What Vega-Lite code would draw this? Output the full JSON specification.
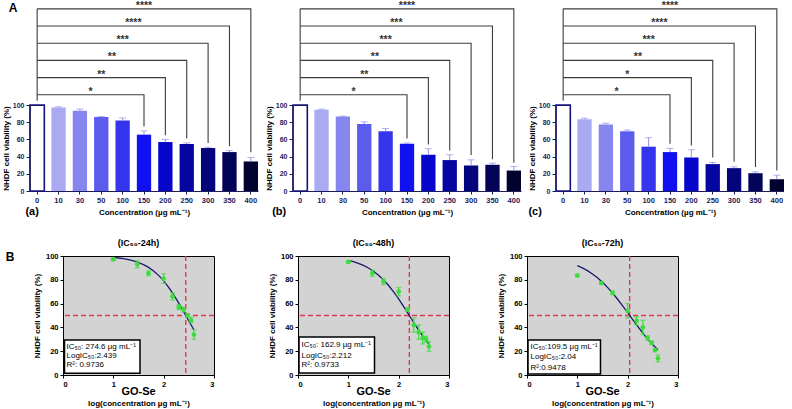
{
"$schema": "https://vega.github.io/schema/vega-lite/v6.json",
"padding": {"left": 2, "top": 0, "right": 0, "bottom": 0},
"config": {"font": "Liberation Sans", "view": {"stroke": null}, "axis": {"grid": false, "labelOverlap": false}},
"datasets": {
"bars": [
{"t":"24h","conc":"0","v":100,"hi":null},{"t":"24h","conc":"10","v":97.3,"hi":98},{"t":"24h","conc":"30","v":93.4,"hi":95.4},{"t":"24h","conc":"50","v":86,"hi":86.6},{"t":"24h","conc":"100","v":82,"hi":85},{"t":"24h","conc":"150","v":65.6,"hi":69.9},{"t":"24h","conc":"200","v":57,"hi":60},{"t":"24h","conc":"250","v":54.7,"hi":56},{"t":"24h","conc":"300","v":50,"hi":50.8},{"t":"24h","conc":"350","v":45.3,"hi":47},{"t":"24h","conc":"400","v":34.4,"hi":39},
{"t":"48h","conc":"0","v":100,"hi":null},{"t":"48h","conc":"10","v":94.5,"hi":95.3},{"t":"48h","conc":"30","v":86.7,"hi":87.2},{"t":"48h","conc":"50","v":78,"hi":80.5},{"t":"48h","conc":"100","v":69.5,"hi":72.7},{"t":"48h","conc":"150","v":55,"hi":55.9},{"t":"48h","conc":"200","v":42.2,"hi":49.2},{"t":"48h","conc":"250","v":36,"hi":42.2},{"t":"48h","conc":"300","v":29.7,"hi":36.3},{"t":"48h","conc":"350","v":30.5,"hi":32.4},{"t":"48h","conc":"400","v":23.8,"hi":28.5},
{"t":"72h","conc":"0","v":100,"hi":null},{"t":"72h","conc":"10","v":83.6,"hi":84.8},{"t":"72h","conc":"30","v":77.3,"hi":78.9},{"t":"72h","conc":"50","v":69.5,"hi":71},{"t":"72h","conc":"100","v":51.6,"hi":62},{"t":"72h","conc":"150","v":45.3,"hi":49.6},{"t":"72h","conc":"200","v":39,"hi":48},{"t":"72h","conc":"250","v":31.3,"hi":33.2},{"t":"72h","conc":"300","v":26.6,"hi":28.1},{"t":"72h","conc":"350","v":20.7,"hi":22.3},{"t":"72h","conc":"400","v":13.7,"hi":18.4}
],
"brk": [
{"t":"24h","comp":"150","seq":1,"conc":"0","y":112},{"t":"24h","comp":"150","seq":2,"conc":"150","y":112},{"t":"24h","comp":"150","seq":3,"conc":"150","y":75},
{"t":"24h","comp":"200","seq":1,"conc":"0","y":132},{"t":"24h","comp":"200","seq":2,"conc":"200","y":132},{"t":"24h","comp":"200","seq":3,"conc":"200","y":65},
{"t":"24h","comp":"250","seq":1,"conc":"0","y":152},{"t":"24h","comp":"250","seq":2,"conc":"250","y":152},{"t":"24h","comp":"250","seq":3,"conc":"250","y":61},
{"t":"24h","comp":"300","seq":1,"conc":"0","y":172},{"t":"24h","comp":"300","seq":2,"conc":"300","y":172},{"t":"24h","comp":"300","seq":3,"conc":"300","y":56},
{"t":"24h","comp":"350","seq":1,"conc":"0","y":192},{"t":"24h","comp":"350","seq":2,"conc":"350","y":192},{"t":"24h","comp":"350","seq":3,"conc":"350","y":52},
{"t":"24h","comp":"400","seq":1,"conc":"0","y":212},{"t":"24h","comp":"400","seq":2,"conc":"400","y":212},{"t":"24h","comp":"400","seq":3,"conc":"400","y":45},
{"t":"48h","comp":"150","seq":1,"conc":"0","y":112},{"t":"48h","comp":"150","seq":2,"conc":"150","y":112},{"t":"48h","comp":"150","seq":3,"conc":"150","y":61},
{"t":"48h","comp":"200","seq":1,"conc":"0","y":132},{"t":"48h","comp":"200","seq":2,"conc":"200","y":132},{"t":"48h","comp":"200","seq":3,"conc":"200","y":54},
{"t":"48h","comp":"250","seq":1,"conc":"0","y":152},{"t":"48h","comp":"250","seq":2,"conc":"250","y":152},{"t":"48h","comp":"250","seq":3,"conc":"250","y":47},
{"t":"48h","comp":"300","seq":1,"conc":"0","y":172},{"t":"48h","comp":"300","seq":2,"conc":"300","y":172},{"t":"48h","comp":"300","seq":3,"conc":"300","y":42},
{"t":"48h","comp":"350","seq":1,"conc":"0","y":192},{"t":"48h","comp":"350","seq":2,"conc":"350","y":192},{"t":"48h","comp":"350","seq":3,"conc":"350","y":37},
{"t":"48h","comp":"400","seq":1,"conc":"0","y":212},{"t":"48h","comp":"400","seq":2,"conc":"400","y":212},{"t":"48h","comp":"400","seq":3,"conc":"400","y":33},
{"t":"72h","comp":"150","seq":1,"conc":"0","y":112},{"t":"72h","comp":"150","seq":2,"conc":"150","y":112},{"t":"72h","comp":"150","seq":3,"conc":"150","y":55},
{"t":"72h","comp":"200","seq":1,"conc":"0","y":132},{"t":"72h","comp":"200","seq":2,"conc":"200","y":132},{"t":"72h","comp":"200","seq":3,"conc":"200","y":53},
{"t":"72h","comp":"250","seq":1,"conc":"0","y":152},{"t":"72h","comp":"250","seq":2,"conc":"250","y":152},{"t":"72h","comp":"250","seq":3,"conc":"250","y":39},
{"t":"72h","comp":"300","seq":1,"conc":"0","y":172},{"t":"72h","comp":"300","seq":2,"conc":"300","y":172},{"t":"72h","comp":"300","seq":3,"conc":"300","y":34},
{"t":"72h","comp":"350","seq":1,"conc":"0","y":192},{"t":"72h","comp":"350","seq":2,"conc":"350","y":192},{"t":"72h","comp":"350","seq":3,"conc":"350","y":28},
{"t":"72h","comp":"400","seq":1,"conc":"0","y":212},{"t":"72h","comp":"400","seq":2,"conc":"400","y":212},{"t":"72h","comp":"400","seq":3,"conc":"400","y":24}
],
"stars": [
{"t":"24h","conc":"30","half":true,"h":112,"s":"*"},{"t":"24h","conc":"50","half":false,"h":132,"s":"**"},{"t":"24h","conc":"50","half":true,"h":152,"s":"**"},{"t":"24h","conc":"100","half":false,"h":172,"s":"***"},{"t":"24h","conc":"100","half":true,"h":192,"s":"****"},{"t":"24h","conc":"150","half":false,"h":212,"s":"****"},
{"t":"48h","conc":"30","half":true,"h":112,"s":"*"},{"t":"48h","conc":"50","half":false,"h":132,"s":"**"},{"t":"48h","conc":"50","half":true,"h":152,"s":"**"},{"t":"48h","conc":"100","half":false,"h":172,"s":"***"},{"t":"48h","conc":"100","half":true,"h":192,"s":"***"},{"t":"48h","conc":"150","half":false,"h":212,"s":"****"},
{"t":"72h","conc":"30","half":true,"h":112,"s":"*"},{"t":"72h","conc":"50","half":false,"h":132,"s":"*"},{"t":"72h","conc":"50","half":true,"h":152,"s":"**"},{"t":"72h","conc":"100","half":false,"h":172,"s":"***"},{"t":"72h","conc":"100","half":true,"h":192,"s":"****"},{"t":"72h","conc":"150","half":false,"h":212,"s":"****"}
],
"pts": [
{"t":"24h","lc":1,"v":97.3,"lo":96,"hi":98.6},{"t":"24h","lc":1.477,"v":93,"lo":90,"hi":96},{"t":"24h","lc":1.699,"v":85.5,"lo":83.5,"hi":87.5},{"t":"24h","lc":2,"v":81,"lo":77,"hi":85},{"t":"24h","lc":2.176,"v":66,"lo":63,"hi":69},{"t":"24h","lc":2.301,"v":57,"lo":55,"hi":59},{"t":"24h","lc":2.398,"v":55,"lo":53,"hi":57},{"t":"24h","lc":2.477,"v":50,"lo":48.5,"hi":51.5},{"t":"24h","lc":2.544,"v":46,"lo":44,"hi":48.5},{"t":"24h","lc":2.602,"v":34,"lo":30,"hi":38},
{"t":"48h","lc":1,"v":95,"lo":94,"hi":96},{"t":"48h","lc":1.477,"v":85.5,"lo":83,"hi":88},{"t":"48h","lc":1.699,"v":78.5,"lo":76,"hi":81},{"t":"48h","lc":2,"v":70,"lo":66.5,"hi":73.5},{"t":"48h","lc":2.176,"v":55,"lo":53.5,"hi":56.5},{"t":"48h","lc":2.301,"v":42,"lo":36,"hi":48},{"t":"48h","lc":2.398,"v":36,"lo":30,"hi":42},{"t":"48h","lc":2.477,"v":31,"lo":26,"hi":36},{"t":"48h","lc":2.544,"v":30,"lo":27.5,"hi":32.5},{"t":"48h","lc":2.602,"v":24,"lo":20,"hi":28},
{"t":"72h","lc":1,"v":83.6,"lo":82.5,"hi":84.7},{"t":"72h","lc":1.477,"v":77.3,"lo":76,"hi":78.6},{"t":"72h","lc":1.699,"v":69,"lo":67.5,"hi":70.5},{"t":"72h","lc":2,"v":54,"lo":48,"hi":60},{"t":"72h","lc":2.176,"v":45.5,"lo":42,"hi":49},{"t":"72h","lc":2.301,"v":40,"lo":34,"hi":46},{"t":"72h","lc":2.398,"v":31,"lo":29,"hi":33},{"t":"72h","lc":2.477,"v":27,"lo":25.5,"hi":28.5},{"t":"72h","lc":2.544,"v":21,"lo":19.5,"hi":22.5},{"t":"72h","lc":2.602,"v":14,"lo":11,"hi":17}
],
"curve": [
{"t":"24h","lc":1.0,"v":98.76},{"t":"24h","lc":1.1,"v":98.32},{"t":"24h","lc":1.2,"v":97.74},{"t":"24h","lc":1.3,"v":96.96},{"t":"24h","lc":1.4,"v":95.92},{"t":"24h","lc":1.5,"v":94.55},{"t":"24h","lc":1.6,"v":92.76},{"t":"24h","lc":1.7,"v":90.43},{"t":"24h","lc":1.8,"v":87.46},{"t":"24h","lc":1.9,"v":83.73},{"t":"24h","lc":2.0,"v":79.16},{"t":"24h","lc":2.1,"v":73.7},{"t":"24h","lc":2.2,"v":67.4},{"t":"24h","lc":2.3,"v":60.41},{"t":"24h","lc":2.4,"v":52.96},{"t":"24h","lc":2.5,"v":45.38},{"t":"24h","lc":2.6,"v":38.0},
{"t":"48h","lc":1.0,"v":96.33},{"t":"48h","lc":1.1,"v":95.25},{"t":"48h","lc":1.2,"v":93.87},{"t":"48h","lc":1.3,"v":92.12},{"t":"48h","lc":1.4,"v":89.93},{"t":"48h","lc":1.5,"v":87.21},{"t":"48h","lc":1.6,"v":83.89},{"t":"48h","lc":1.7,"v":79.9},{"t":"48h","lc":1.8,"v":75.23},{"t":"48h","lc":1.9,"v":69.87},{"t":"48h","lc":2.0,"v":63.91},{"t":"48h","lc":2.1,"v":57.5},{"t":"48h","lc":2.2,"v":50.81},{"t":"48h","lc":2.3,"v":44.1},{"t":"48h","lc":2.4,"v":37.59},{"t":"48h","lc":2.5,"v":31.51},{"t":"48h","lc":2.6,"v":26.0},
{"t":"72h","lc":1.0,"v":91.9},{"t":"72h","lc":1.1,"v":89.98},{"t":"72h","lc":1.2,"v":87.67},{"t":"72h","lc":1.3,"v":84.91},{"t":"72h","lc":1.4,"v":81.67},{"t":"72h","lc":1.5,"v":77.92},{"t":"72h","lc":1.6,"v":73.64},{"t":"72h","lc":1.7,"v":68.87},{"t":"72h","lc":1.8,"v":63.66},{"t":"72h","lc":1.9,"v":58.1},{"t":"72h","lc":2.0,"v":52.33},{"t":"72h","lc":2.1,"v":46.51},{"t":"72h","lc":2.2,"v":40.77},{"t":"72h","lc":2.3,"v":35.28},{"t":"72h","lc":2.4,"v":30.14},{"t":"72h","lc":2.5,"v":25.46},{"t":"72h","lc":2.6,"v":21.29}
]
},
"columns": 1,
"align": "none",
"spacing": 20,
"concat": [
{"spacing": 7, "hconcat": [
{"width": 228, "height": 189, "layer": [
 {"data":{"name":"bars"},"transform":[{"filter":"datum.t==='24h'"}],"mark":{"type":"bar","stroke":"#14147a"},
  "encoding":{
   "x":{"field":"conc","type":"ordinal","scale":{"domain":["0","10","30","50","100","150","200","250","300","350","400"],"paddingInner":0.33,"paddingOuter":0},"axis":{"title":"Concentration (µg mL⁻¹)","labelAngle":0,"labelOverlap":false,"labelFontSize":7.5,"labelFontWeight":"bold","labelColor":"#1c1c5c","domainColor":"#1c1c5c","tickColor":"#1c1c5c","tickSize":3,"labelPadding":2,"titleFontSize":8,"titleFontWeight":"bold","titleColor":"#000000","titlePadding":5}},
   "y":{"field":"v","type":"quantitative","scale":{"domain":[0,220],"nice":false},"axis":{"title":"NHDF cell viability (%)","values":[0,20,40,60,80,100],"format":"d","tickCount":12,"labelOverlap":false,"domain":false,"tickColor":"#1c1c5c","tickSize":4,"labelFontSize":7,"labelFontWeight":"bold","labelColor":"#1c1c5c","labelPadding":2,"titleFontSize":8,"titleFontWeight":"bold","titleColor":"#000000","titleY":146,"titlePadding":2}},
   "color":{"field":"conc","type":"ordinal","scale":{"domain":["0","10","30","50","100","150","200","250","300","350","400"],"range":["#ffffff","#aaaaf2","#8686ee","#5b5bee","#3535ee","#1010f0","#0707cc","#0505a2","#04047c","#030358","#02022e"]},"legend":null},
   "strokeWidth":{"condition":{"test":"datum.conc==='0'","value":1.6},"value":0}}},
 {"data":{"name":"bars"},"transform":[{"filter":"datum.t==='24h' && datum.hi != null"}],"mark":{"type":"rule","color":"#9090e8","strokeWidth":1},
  "encoding":{"x":{"field":"conc","type":"ordinal"},"y":{"field":"v","type":"quantitative"},"y2":{"field":"hi"}}},
 {"data":{"name":"bars"},"transform":[{"filter":"datum.t==='24h' && datum.hi != null"}],"mark":{"type":"tick","color":"#9090e8","thickness":1,"size":7,"orient":"horizontal"},
  "encoding":{"x":{"field":"conc","type":"ordinal"},"y":{"field":"hi","type":"quantitative"}}},
 {"data":{"values":[{}]},"mark":{"type":"rule","color":"#1c1c5c","strokeWidth":1},
  "encoding":{"x":{"datum":"0","type":"ordinal","bandPosition":0},"y":{"datum":0,"type":"quantitative"},"y2":{"datum":100}}},
 {"data":{"name":"brk"},"transform":[{"filter":"datum.t==='24h'"}],"mark":{"type":"line","color":"#3c3c3c","strokeWidth":1.1},
  "encoding":{"x":{"field":"conc","type":"ordinal"},"y":{"field":"y","type":"quantitative"},"detail":{"field":"comp"},"order":{"field":"seq"}}},
 {"data":{"values":[{}]},"mark":{"type":"rule","color":"#3c3c3c","strokeWidth":1.1},
  "encoding":{"x":{"datum":"0","type":"ordinal"},"y":{"datum":105,"type":"quantitative"},"y2":{"datum":212}}},
 {"data":{"name":"stars"},"transform":[{"filter":"datum.t==='24h' && !datum.half"}],"mark":{"type":"text","fontSize":10.5,"fontWeight":"bold","color":"#333333","baseline":"alphabetic"},
  "encoding":{"x":{"field":"conc","type":"ordinal"},"y":{"field":"h","type":"quantitative"},"text":{"field":"s"}}},
 {"data":{"name":"stars"},"transform":[{"filter":"datum.t==='24h' && datum.half"}],"mark":{"type":"text","fontSize":10.5,"fontWeight":"bold","color":"#333333","baseline":"alphabetic","dx":10.7},
  "encoding":{"x":{"field":"conc","type":"ordinal"},"y":{"field":"h","type":"quantitative"},"text":{"field":"s"}}},
 {"data":{"values":[{}]},"mark":{"type":"text","text":"A","fontSize":12,"fontWeight":"bold","baseline":"middle","dx":-24},
  "encoding":{"x":{"datum":"0","type":"ordinal"},"y":{"datum":213,"type":"quantitative"}}},
 {"data":{"values":[{}]},"mark":{"type":"text","text":"(a)","fontSize":11,"fontWeight":"bold","baseline":"middle","dx":-5},
  "encoding":{"x":{"datum":"0","type":"ordinal"},"y":{"datum":-25,"type":"quantitative"}}}
]},
{"width": 228, "height": 189, "layer": [
 {"data":{"name":"bars"},"transform":[{"filter":"datum.t==='48h'"}],"mark":{"type":"bar","stroke":"#14147a"},
  "encoding":{
   "x":{"field":"conc","type":"ordinal","scale":{"domain":["0","10","30","50","100","150","200","250","300","350","400"],"paddingInner":0.33,"paddingOuter":0},"axis":{"title":"Concentration (µg mL⁻¹)","labelAngle":0,"labelOverlap":false,"labelFontSize":7.5,"labelFontWeight":"bold","labelColor":"#1c1c5c","domainColor":"#1c1c5c","tickColor":"#1c1c5c","tickSize":3,"labelPadding":2,"titleFontSize":8,"titleFontWeight":"bold","titleColor":"#000000","titlePadding":5}},
   "y":{"field":"v","type":"quantitative","scale":{"domain":[0,220],"nice":false},"axis":{"title":"NHDF cell viability (%)","values":[0,20,40,60,80,100],"format":"d","tickCount":12,"labelOverlap":false,"domain":false,"tickColor":"#1c1c5c","tickSize":4,"labelFontSize":7,"labelFontWeight":"bold","labelColor":"#1c1c5c","labelPadding":2,"titleFontSize":8,"titleFontWeight":"bold","titleColor":"#000000","titleY":146,"titlePadding":2}},
   "color":{"field":"conc","type":"ordinal","scale":{"domain":["0","10","30","50","100","150","200","250","300","350","400"],"range":["#ffffff","#aaaaf2","#8686ee","#5b5bee","#3535ee","#1010f0","#0707cc","#0505a2","#04047c","#030358","#02022e"]},"legend":null},
   "strokeWidth":{"condition":{"test":"datum.conc==='0'","value":1.6},"value":0}}},
 {"data":{"name":"bars"},"transform":[{"filter":"datum.t==='48h' && datum.hi != null"}],"mark":{"type":"rule","color":"#9090e8","strokeWidth":1},
  "encoding":{"x":{"field":"conc","type":"ordinal"},"y":{"field":"v","type":"quantitative"},"y2":{"field":"hi"}}},
 {"data":{"name":"bars"},"transform":[{"filter":"datum.t==='48h' && datum.hi != null"}],"mark":{"type":"tick","color":"#9090e8","thickness":1,"size":7,"orient":"horizontal"},
  "encoding":{"x":{"field":"conc","type":"ordinal"},"y":{"field":"hi","type":"quantitative"}}},
 {"data":{"values":[{}]},"mark":{"type":"rule","color":"#1c1c5c","strokeWidth":1},
  "encoding":{"x":{"datum":"0","type":"ordinal","bandPosition":0},"y":{"datum":0,"type":"quantitative"},"y2":{"datum":100}}},
 {"data":{"name":"brk"},"transform":[{"filter":"datum.t==='48h'"}],"mark":{"type":"line","color":"#3c3c3c","strokeWidth":1.1},
  "encoding":{"x":{"field":"conc","type":"ordinal"},"y":{"field":"y","type":"quantitative"},"detail":{"field":"comp"},"order":{"field":"seq"}}},
 {"data":{"values":[{}]},"mark":{"type":"rule","color":"#3c3c3c","strokeWidth":1.1},
  "encoding":{"x":{"datum":"0","type":"ordinal"},"y":{"datum":105,"type":"quantitative"},"y2":{"datum":212}}},
 {"data":{"name":"stars"},"transform":[{"filter":"datum.t==='48h' && !datum.half"}],"mark":{"type":"text","fontSize":10.5,"fontWeight":"bold","color":"#333333","baseline":"alphabetic"},
  "encoding":{"x":{"field":"conc","type":"ordinal"},"y":{"field":"h","type":"quantitative"},"text":{"field":"s"}}},
 {"data":{"name":"stars"},"transform":[{"filter":"datum.t==='48h' && datum.half"}],"mark":{"type":"text","fontSize":10.5,"fontWeight":"bold","color":"#333333","baseline":"alphabetic","dx":10.7},
  "encoding":{"x":{"field":"conc","type":"ordinal"},"y":{"field":"h","type":"quantitative"},"text":{"field":"s"}}},
 {"data":{"values":[{}]},"mark":{"type":"text","text":"(b)","fontSize":11,"fontWeight":"bold","baseline":"middle","dx":-21},
  "encoding":{"x":{"datum":"0","type":"ordinal"},"y":{"datum":-25,"type":"quantitative"}}}
]},
{"width": 228, "height": 189, "layer": [
 {"data":{"name":"bars"},"transform":[{"filter":"datum.t==='72h'"}],"mark":{"type":"bar","stroke":"#14147a"},
  "encoding":{
   "x":{"field":"conc","type":"ordinal","scale":{"domain":["0","10","30","50","100","150","200","250","300","350","400"],"paddingInner":0.33,"paddingOuter":0},"axis":{"title":"Concentration (µg mL⁻¹)","labelAngle":0,"labelOverlap":false,"labelFontSize":7.5,"labelFontWeight":"bold","labelColor":"#1c1c5c","domainColor":"#1c1c5c","tickColor":"#1c1c5c","tickSize":3,"labelPadding":2,"titleFontSize":8,"titleFontWeight":"bold","titleColor":"#000000","titlePadding":5}},
   "y":{"field":"v","type":"quantitative","scale":{"domain":[0,220],"nice":false},"axis":{"title":"NHDF cell viability (%)","values":[0,20,40,60,80,100],"format":"d","tickCount":12,"labelOverlap":false,"domain":false,"tickColor":"#1c1c5c","tickSize":4,"labelFontSize":7,"labelFontWeight":"bold","labelColor":"#1c1c5c","labelPadding":2,"titleFontSize":8,"titleFontWeight":"bold","titleColor":"#000000","titleY":146,"titlePadding":2}},
   "color":{"field":"conc","type":"ordinal","scale":{"domain":["0","10","30","50","100","150","200","250","300","350","400"],"range":["#ffffff","#aaaaf2","#8686ee","#5b5bee","#3535ee","#1010f0","#0707cc","#0505a2","#04047c","#030358","#02022e"]},"legend":null},
   "strokeWidth":{"condition":{"test":"datum.conc==='0'","value":1.6},"value":0}}},
 {"data":{"name":"bars"},"transform":[{"filter":"datum.t==='72h' && datum.hi != null"}],"mark":{"type":"rule","color":"#9090e8","strokeWidth":1},
  "encoding":{"x":{"field":"conc","type":"ordinal"},"y":{"field":"v","type":"quantitative"},"y2":{"field":"hi"}}},
 {"data":{"name":"bars"},"transform":[{"filter":"datum.t==='72h' && datum.hi != null"}],"mark":{"type":"tick","color":"#9090e8","thickness":1,"size":7,"orient":"horizontal"},
  "encoding":{"x":{"field":"conc","type":"ordinal"},"y":{"field":"hi","type":"quantitative"}}},
 {"data":{"values":[{}]},"mark":{"type":"rule","color":"#1c1c5c","strokeWidth":1},
  "encoding":{"x":{"datum":"0","type":"ordinal","bandPosition":0},"y":{"datum":0,"type":"quantitative"},"y2":{"datum":100}}},
 {"data":{"name":"brk"},"transform":[{"filter":"datum.t==='72h'"}],"mark":{"type":"line","color":"#3c3c3c","strokeWidth":1.1},
  "encoding":{"x":{"field":"conc","type":"ordinal"},"y":{"field":"y","type":"quantitative"},"detail":{"field":"comp"},"order":{"field":"seq"}}},
 {"data":{"values":[{}]},"mark":{"type":"rule","color":"#3c3c3c","strokeWidth":1.1},
  "encoding":{"x":{"datum":"0","type":"ordinal"},"y":{"datum":105,"type":"quantitative"},"y2":{"datum":212}}},
 {"data":{"name":"stars"},"transform":[{"filter":"datum.t==='72h' && !datum.half"}],"mark":{"type":"text","fontSize":10.5,"fontWeight":"bold","color":"#333333","baseline":"alphabetic"},
  "encoding":{"x":{"field":"conc","type":"ordinal"},"y":{"field":"h","type":"quantitative"},"text":{"field":"s"}}},
 {"data":{"name":"stars"},"transform":[{"filter":"datum.t==='72h' && datum.half"}],"mark":{"type":"text","fontSize":10.5,"fontWeight":"bold","color":"#333333","baseline":"alphabetic","dx":10.7},
  "encoding":{"x":{"field":"conc","type":"ordinal"},"y":{"field":"h","type":"quantitative"},"text":{"field":"s"}}},
 {"data":{"values":[{}]},"mark":{"type":"text","text":"(c)","fontSize":11,"fontWeight":"bold","baseline":"middle","dx":-28},
  "encoding":{"x":{"datum":"0","type":"ordinal"},"y":{"datum":-25,"type":"quantitative"}}}
]}
]},
{"spacing": 1, "hconcat": [
{"width": 1, "height": 119, "view": {"stroke": null},
 "data": {"values": [{}]},
 "mark": {"type":"text","text":"B","fontSize":12,"fontWeight":"bold","baseline":"middle"},
 "encoding": {"x":{"datum":-20,"type":"quantitative","scale":{"domain":[0,1]},"axis":null},"y":{"datum":99,"type":"quantitative","scale":{"domain":[0,100]},"axis":null}}},
{"spacing": 51, "hconcat": [
{"width": 151, "height": 119, "title": {"text":"(IC₅₀-24h)","frame":"group","fontSize":9,"fontWeight":"bold","offset":4},
 "view": {"fill":"#d3d3d3","stroke":"#000000","strokeWidth":1},
 "layer": [
 {"data":{"values":[{}]},"mark":{"type":"rule","color":"#e0394c","strokeDash":[5,3],"strokeWidth":1.4},"encoding":{"y":{"datum":50,"type":"quantitative"}}},
 {"data":{"values":[{}]},"mark":{"type":"rule","color":"#e0394c","strokeDash":[5,3],"strokeWidth":1.4},"encoding":{"x":{"datum":2.439,"type":"quantitative"}}},
 {"data":{"name":"curve"},"transform":[{"filter":"datum.t==='24h'"}],"mark":{"type":"line","color":"#1a1a6e","strokeWidth":1.3},
  "encoding":{"x":{"field":"lc","type":"quantitative"},"y":{"field":"v","type":"quantitative"}}},
 {"data":{"name":"pts"},"transform":[{"filter":"datum.t==='24h'"}],"mark":{"type":"rule","color":"#3ddc3d","strokeWidth":1.2},
  "encoding":{"x":{"field":"lc","type":"quantitative"},"y":{"field":"lo","type":"quantitative"},"y2":{"field":"hi"}}},
 {"data":{"name":"pts"},"transform":[{"filter":"datum.t==='24h'"}],"mark":{"type":"tick","color":"#3ddc3d","thickness":1.2,"size":5,"orient":"horizontal"},
  "encoding":{"x":{"field":"lc","type":"quantitative"},"y":{"field":"lo","type":"quantitative"}}},
 {"data":{"name":"pts"},"transform":[{"filter":"datum.t==='24h'"}],"mark":{"type":"tick","color":"#3ddc3d","thickness":1.2,"size":5,"orient":"horizontal"},
  "encoding":{"x":{"field":"lc","type":"quantitative"},"y":{"field":"hi","type":"quantitative"}}},
 {"data":{"name":"pts"},"transform":[{"filter":"datum.t==='24h'"}],"mark":{"type":"point","filled":true,"color":"#3ddc3d","size":22,"opacity":1},
  "encoding":{
   "x":{"field":"lc","type":"quantitative","scale":{"domain":[0,3],"nice":false},"axis":{"values":[0,1,2,3],"format":"d","labelOverlap":false,"title":"log(concentration µg mL⁻¹)","titleFontSize":8,"titleFontWeight":"bold","titlePadding":12,"labelFontSize":7.5,"labelFontWeight":"bold","labelColor":"#000000","domainColor":"#000000","tickColor":"#000000","tickSize":3,"labelPadding":2}},
   "y":{"field":"v","type":"quantitative","scale":{"domain":[0,100],"nice":false},"axis":{"values":[0,20,40,60,80,100],"format":"d","tickCount":12,"labelOverlap":false,"title":"NHDF cell viability (%)","titleFontSize":8,"titleFontWeight":"bold","titlePadding":4,"labelFontSize":7.5,"labelFontWeight":"bold","labelColor":"#000000","domainColor":"#000000","tickColor":"#000000","tickSize":3,"labelPadding":2}}}},
 {"data":{"values":[{}]},"mark":{"type":"rect","fill":"#ffffff","stroke":"#000000","strokeWidth":1.5},
  "encoding":{"x":{"datum":0.03,"type":"quantitative"},"x2":{"datum":1.53},"y":{"datum":1.5,"type":"quantitative"},"y2":{"datum":29.5}}},
 {"data":{"values":[{}]},"mark":{"type":"text","text":"IC₅₀: 274.6 µg mL⁻¹","fontSize":8,"align":"left","baseline":"middle"},"encoding":{"x":{"datum":0.07,"type":"quantitative"},"y":{"datum":23.3,"type":"quantitative"}}},
 {"data":{"values":[{}]},"mark":{"type":"text","text":"LogIC₅₀:2.439","fontSize":8,"align":"left","baseline":"middle"},"encoding":{"x":{"datum":0.07,"type":"quantitative"},"y":{"datum":15.6,"type":"quantitative"}}},
 {"data":{"values":[{}]},"mark":{"type":"text","text":"R²: 0.9736","fontSize":8,"align":"left","baseline":"middle"},"encoding":{"x":{"datum":0.07,"type":"quantitative"},"y":{"datum":8.3,"type":"quantitative"}}},
 {"data":{"values":[{}]},"mark":{"type":"text","text":"GO-Se","fontSize":11,"fontWeight":"bold","baseline":"middle"},"encoding":{"x":{"datum":1.5,"type":"quantitative"},"y":{"datum":-14.5,"type":"quantitative"}}}
 ]},
{"spacing": 45, "hconcat": [
{"width": 151, "height": 119, "title": {"text":"(IC₅₀-48h)","frame":"group","fontSize":9,"fontWeight":"bold","offset":4},
 "view": {"fill":"#d3d3d3","stroke":"#000000","strokeWidth":1},
 "layer": [
 {"data":{"values":[{}]},"mark":{"type":"rule","color":"#e0394c","strokeDash":[5,3],"strokeWidth":1.4},"encoding":{"y":{"datum":50,"type":"quantitative"}}},
 {"data":{"values":[{}]},"mark":{"type":"rule","color":"#e0394c","strokeDash":[5,3],"strokeWidth":1.4},"encoding":{"x":{"datum":2.212,"type":"quantitative"}}},
 {"data":{"name":"curve"},"transform":[{"filter":"datum.t==='48h'"}],"mark":{"type":"line","color":"#1a1a6e","strokeWidth":1.3},
  "encoding":{"x":{"field":"lc","type":"quantitative"},"y":{"field":"v","type":"quantitative"}}},
 {"data":{"name":"pts"},"transform":[{"filter":"datum.t==='48h'"}],"mark":{"type":"rule","color":"#3ddc3d","strokeWidth":1.2},
  "encoding":{"x":{"field":"lc","type":"quantitative"},"y":{"field":"lo","type":"quantitative"},"y2":{"field":"hi"}}},
 {"data":{"name":"pts"},"transform":[{"filter":"datum.t==='48h'"}],"mark":{"type":"tick","color":"#3ddc3d","thickness":1.2,"size":5,"orient":"horizontal"},
  "encoding":{"x":{"field":"lc","type":"quantitative"},"y":{"field":"lo","type":"quantitative"}}},
 {"data":{"name":"pts"},"transform":[{"filter":"datum.t==='48h'"}],"mark":{"type":"tick","color":"#3ddc3d","thickness":1.2,"size":5,"orient":"horizontal"},
  "encoding":{"x":{"field":"lc","type":"quantitative"},"y":{"field":"hi","type":"quantitative"}}},
 {"data":{"name":"pts"},"transform":[{"filter":"datum.t==='48h'"}],"mark":{"type":"point","filled":true,"color":"#3ddc3d","size":22,"opacity":1},
  "encoding":{
   "x":{"field":"lc","type":"quantitative","scale":{"domain":[0,3],"nice":false},"axis":{"values":[0,1,2,3],"format":"d","labelOverlap":false,"title":"log(concentration µg mL⁻¹)","titleFontSize":8,"titleFontWeight":"bold","titlePadding":12,"labelFontSize":7.5,"labelFontWeight":"bold","labelColor":"#000000","domainColor":"#000000","tickColor":"#000000","tickSize":3,"labelPadding":2}},
   "y":{"field":"v","type":"quantitative","scale":{"domain":[0,100],"nice":false},"axis":{"values":[0,20,40,60,80,100],"format":"d","tickCount":12,"labelOverlap":false,"title":"NHDF cell viability (%)","titleFontSize":8,"titleFontWeight":"bold","titlePadding":4,"labelFontSize":7.5,"labelFontWeight":"bold","labelColor":"#000000","domainColor":"#000000","tickColor":"#000000","tickSize":3,"labelPadding":2}}}},
 {"data":{"values":[{}]},"mark":{"type":"rect","fill":"#ffffff","stroke":"#000000","strokeWidth":1.5},
  "encoding":{"x":{"datum":0.02,"type":"quantitative"},"x2":{"datum":1.52},"y":{"datum":1.7,"type":"quantitative"},"y2":{"datum":32}}},
 {"data":{"values":[{}]},"mark":{"type":"text","text":"IC₅₀: 162.9 µg mL⁻¹","fontSize":8,"align":"left","baseline":"middle"},"encoding":{"x":{"datum":0.07,"type":"quantitative"},"y":{"datum":25.4,"type":"quantitative"}}},
 {"data":{"values":[{}]},"mark":{"type":"text","text":"LogIC₅₀:2.212","fontSize":8,"align":"left","baseline":"middle"},"encoding":{"x":{"datum":0.07,"type":"quantitative"},"y":{"datum":16.3,"type":"quantitative"}}},
 {"data":{"values":[{}]},"mark":{"type":"text","text":"R²: 0.9733","fontSize":8,"align":"left","baseline":"middle"},"encoding":{"x":{"datum":0.07,"type":"quantitative"},"y":{"datum":8.5,"type":"quantitative"}}},
 {"data":{"values":[{}]},"mark":{"type":"text","text":"GO-Se","fontSize":11,"fontWeight":"bold","baseline":"middle"},"encoding":{"x":{"datum":1.5,"type":"quantitative"},"y":{"datum":-14.5,"type":"quantitative"}}}
 ]},
{"width": 151, "height": 119, "title": {"text":"(IC₅₀-72h)","frame":"group","fontSize":9,"fontWeight":"bold","offset":4},
 "view": {"fill":"#d3d3d3","stroke":"#000000","strokeWidth":1},
 "layer": [
 {"data":{"values":[{}]},"mark":{"type":"rule","color":"#e0394c","strokeDash":[5,3],"strokeWidth":1.4},"encoding":{"y":{"datum":50,"type":"quantitative"}}},
 {"data":{"values":[{}]},"mark":{"type":"rule","color":"#e0394c","strokeDash":[5,3],"strokeWidth":1.4},"encoding":{"x":{"datum":2.04,"type":"quantitative"}}},
 {"data":{"name":"curve"},"transform":[{"filter":"datum.t==='72h'"}],"mark":{"type":"line","color":"#1a1a6e","strokeWidth":1.3},
  "encoding":{"x":{"field":"lc","type":"quantitative"},"y":{"field":"v","type":"quantitative"}}},
 {"data":{"name":"pts"},"transform":[{"filter":"datum.t==='72h'"}],"mark":{"type":"rule","color":"#3ddc3d","strokeWidth":1.2},
  "encoding":{"x":{"field":"lc","type":"quantitative"},"y":{"field":"lo","type":"quantitative"},"y2":{"field":"hi"}}},
 {"data":{"name":"pts"},"transform":[{"filter":"datum.t==='72h'"}],"mark":{"type":"tick","color":"#3ddc3d","thickness":1.2,"size":5,"orient":"horizontal"},
  "encoding":{"x":{"field":"lc","type":"quantitative"},"y":{"field":"lo","type":"quantitative"}}},
 {"data":{"name":"pts"},"transform":[{"filter":"datum.t==='72h'"}],"mark":{"type":"tick","color":"#3ddc3d","thickness":1.2,"size":5,"orient":"horizontal"},
  "encoding":{"x":{"field":"lc","type":"quantitative"},"y":{"field":"hi","type":"quantitative"}}},
 {"data":{"name":"pts"},"transform":[{"filter":"datum.t==='72h'"}],"mark":{"type":"point","filled":true,"color":"#3ddc3d","size":22,"opacity":1},
  "encoding":{
   "x":{"field":"lc","type":"quantitative","scale":{"domain":[0,3],"nice":false},"axis":{"values":[0,1,2,3],"format":"d","labelOverlap":false,"title":"log(concentration µg mL⁻¹)","titleFontSize":8,"titleFontWeight":"bold","titlePadding":12,"labelFontSize":7.5,"labelFontWeight":"bold","labelColor":"#000000","domainColor":"#000000","tickColor":"#000000","tickSize":3,"labelPadding":2}},
   "y":{"field":"v","type":"quantitative","scale":{"domain":[0,100],"nice":false},"axis":{"values":[0,20,40,60,80,100],"format":"d","tickCount":12,"labelOverlap":false,"title":"NHDF cell viability (%)","titleFontSize":8,"titleFontWeight":"bold","titlePadding":4,"labelFontSize":7.5,"labelFontWeight":"bold","labelColor":"#000000","domainColor":"#000000","tickColor":"#000000","tickSize":3,"labelPadding":2}}}},
 {"data":{"values":[{}]},"mark":{"type":"rect","fill":"#ffffff","stroke":"#000000","strokeWidth":1.5},
  "encoding":{"x":{"datum":0.02,"type":"quantitative"},"x2":{"datum":1.46},"y":{"datum":0.8,"type":"quantitative"},"y2":{"datum":29.5}}},
 {"data":{"values":[{}]},"mark":{"type":"text","text":"IC₅₀:109.5 µg mL⁻¹","fontSize":8,"align":"left","baseline":"middle"},"encoding":{"x":{"datum":0.07,"type":"quantitative"},"y":{"datum":23.3,"type":"quantitative"}}},
 {"data":{"values":[{}]},"mark":{"type":"text","text":"LogIC₅₀:2.04","fontSize":8,"align":"left","baseline":"middle"},"encoding":{"x":{"datum":0.07,"type":"quantitative"},"y":{"datum":14.8,"type":"quantitative"}}},
 {"data":{"values":[{}]},"mark":{"type":"text","text":"R²:0.9478","fontSize":8,"align":"left","baseline":"middle"},"encoding":{"x":{"datum":0.07,"type":"quantitative"},"y":{"datum":5.6,"type":"quantitative"}}},
 {"data":{"values":[{}]},"mark":{"type":"text","text":"GO-Se","fontSize":11,"fontWeight":"bold","baseline":"middle"},"encoding":{"x":{"datum":1.5,"type":"quantitative"},"y":{"datum":-14.5,"type":"quantitative"}}}
 ]}
]}
]}
]}
]
}
